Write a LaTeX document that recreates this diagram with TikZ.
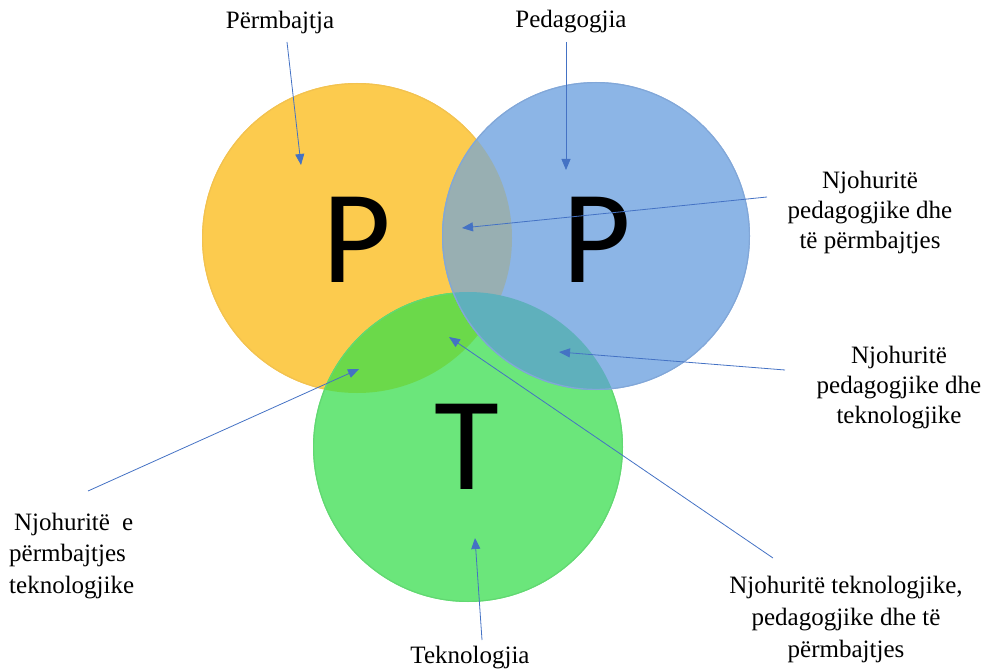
\documentclass[tikz,border=0pt]{standalone}
\usepackage{fontspec}
\setmainfont{Liberation Serif}
\newfontfamily\letterfont{Carlito}
\usetikzlibrary{arrows.meta}
\definecolor{yfill}{HTML}{FCCB4E}
\definecolor{bfill}{HTML}{8CB5E6}
\definecolor{gfill}{HTML}{6BE67B}
\definecolor{ybfill}{HTML}{98AFB2}
\definecolor{ygfill}{HTML}{6BD94A}
\definecolor{bgfill}{HTML}{5FB0BC}
\definecolor{yedge}{HTML}{F2C250}
\definecolor{bedge}{HTML}{82A7D8}
\definecolor{gedge}{HTML}{62D872}
\definecolor{arrowblue}{HTML}{4472C4}
\tikzset{
  lbl/.style={font=\fontsize{25}{30}\selectfont, align=center, inner sep=0pt},
  bigletter/.style={font=\letterfont\fontsize{133}{140}\selectfont, inner sep=0pt},
  arr/.style={draw=arrowblue, line width=0.8pt, -{Triangle[length=11pt,width=9pt]}},
  rim/.style={line width=1.2pt},
}
\begin{document}
\begin{tikzpicture}[x=1pt,y=-1pt]
\useasboundingbox (0,0) rectangle (994,671);
% circle centres
\coordinate (cY) at (357,238);
\coordinate (cB) at (596,236);
\coordinate (cG) at (468,447);
% yellow
\fill[yfill] (cY) circle (155pt);
\draw[yedge, rim] (cY) circle (154.4pt);
% green
\fill[gfill] (cG) circle (155pt);
\begin{scope}
  \clip (cY) circle (155pt);
  \fill[ygfill] (cG) circle (155pt);
\end{scope}
\draw[gedge, rim] (cG) circle (154.4pt);
% blue
\fill[bfill] (cB) circle (154pt);
\begin{scope}
  \clip (cY) circle (155pt);
  \fill[ybfill] (cB) circle (154pt);
\end{scope}
\begin{scope}
  \clip (cG) circle (155pt);
  \fill[bgfill] (cB) circle (154pt);
\end{scope}
\draw[bedge, rim] (cB) circle (153.4pt);
% big letters
\node[bigletter] (LY) at (357,240) {P};
\node[bigletter] (LB) at (597,240) {P};
\node[bigletter] (LG) at (467,447) {T};
% labels
\node[lbl] (tC) at (280,22) {Përmbajtja};
\node[lbl] (tP) at (571,22) {Pedagogjia};
\node[lbl] (tPCK) at (870,212) {Njohuritë\\pedagogjike dhe\\të përmbajtjes};
\node[lbl] (tPTK) at (899,388) {Njohuritë\\pedagogjike dhe\\teknologjike};
\node[lbl, font=\fontsize{25}{31.5}\selectfont, align=left, anchor=west] (tTCK) at (9,556) {\hspace{5pt}Njohuritë\hspace{12pt}e\\përmbajtjes\\teknologjike};
\node[lbl, font=\fontsize{25}{32}\selectfont] (tTPACK) at (846,619) {Njohuritë teknologjike,\\pedagogjike dhe të\\përmbajtjes};
\node[lbl] (tT) at (470,658) {Teknologjia};
% arrow ends
\coordinate (sC) at (287,42);
\coordinate (eC) at (301,165);
\coordinate (sP) at (566,42);
\coordinate (eP) at (566,170);
\coordinate (sPCK) at (767,197);
\coordinate (ePCK) at (462,228);
\coordinate (sPTK) at (785,370);
\coordinate (ePTK) at (559,352);
\coordinate (sTCK) at (88,491);
\coordinate (eTCK) at (359,369);
\coordinate (sTPACK) at (773,558);
\coordinate (eTPACK) at (449,337);
\coordinate (sT) at (482,640);
\coordinate (eT) at (475,538);
% arrows
\draw[arr] (sC) -- (eC);
\draw[arr] (sP) -- (eP);
\draw[arr] (sPCK) -- (ePCK);
\draw[arr] (sPTK) -- (ePTK);
\draw[arr] (sTCK) -- (eTCK);
\draw[arr] (sTPACK) -- (eTPACK);
\draw[arr] (sT) -- (eT);
\end{tikzpicture}
\end{document}
